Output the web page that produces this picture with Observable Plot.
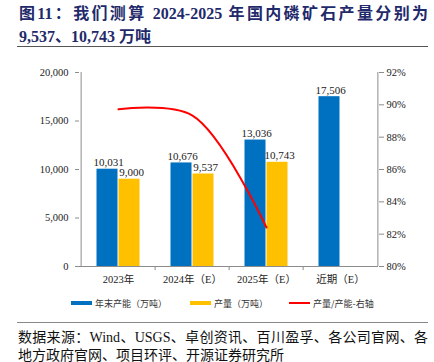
<!DOCTYPE html>
<html>
<head>
<meta charset="utf-8">
<script src="https://cdn.jsdelivr.net/npm/d3@7"></script>
<script src="https://cdn.jsdelivr.net/npm/@observablehq/plot@0.6"></script>
<style>
  html, body { margin: 0; padding: 0; background: #fff; width: 434px; height: 362px; overflow: hidden; }
  body { position: relative; font-family: "Liberation Serif", "Noto Sans CJK SC", serif; }
  .title { position: absolute; left: 19px; width: 409px; font-size: 16px; font-weight: bold; color: #1F2A6B; white-space: nowrap; }
  .t1 { top: 0px; text-align: justify; text-align-last: justify; }
  .t2 { top: 23px; }
  .rule { position: absolute; left: 17px; width: 411px; height: 0; border-top: 1.5px solid #555; }
  #chart { position: absolute; left: 0; top: 0; }
  .legend { position: absolute; top: 297px; left: 0; width: 434px; font-family: "Noto Sans CJK SC", sans-serif; font-size: 9px; color: #333; }
  .item { position: absolute; top: 0; display: flex; align-items: center; height: 12px; }
  .sw { display: inline-block; width: 21px; margin-right: 3px; }
  .cap { position: absolute; left: 18px; font-size: 14px; line-height: 18px; color: #111; white-space: nowrap; }
  .c1 { top: 329px; width: 410px; text-align: justify; text-align-last: justify; }
  .c2 { top: 347px; }
</style>
</head>
<body>
<div class="title t1">图11：我们测算 2024-2025 年国内磷矿石产量分别为</div>
<div class="title t2">9,537、10,743 万吨</div>
<div class="rule" style="top:46px"></div>
<div id="chart"></div>
<div class="legend">
  <div class="item" style="left:71px"><span class="sw" style="height:4px;background:#0070C0"></span>年末产能（万吨）</div>
  <div class="item" style="left:190px"><span class="sw" style="height:4px;background:#FFC000"></span>产量（万吨）</div>
  <div class="item" style="left:289px"><span class="sw" style="height:2px;background:#FF0000"></span>产量/产能-右轴</div>
</div>
<div class="rule" style="top:322px;border-top-color:#888"></div>
<div class="cap c1">数据来源：Wind、USGS、卓创资讯、百川盈孚、各公司官网、各</div>
<div class="cap c2">地方政府官网、项目环评、开源证券研究所</div>
<script>
const categories = ["2023年", "2024年（E）", "2025年（E）", "近期（E）"];
const capacity = [10031, 10676, 13036, 17506];
const output = [9000, 9537, 10743, null];
const ratioPct = [89.72, 89.33, 82.41, null];
const leftTicks = [0, 5000, 10000, 15000, 20000];
const rightTicks = [80, 82, 84, 86, 88, 90, 92];

const capData = categories.map((c, i) => ({cat: c, v: capacity[i]}));
const outData = categories.map((c, i) => ({cat: c, v: output[i]})).filter(d => d.v != null);
const ratioData = categories.map((c, i) => ({cat: c, r: ratioPct[i]})).filter(d => d.r != null);

const rMin = 80, rMax = 92, yMax = 20000;
const toY = r => (r - rMin) / (rMax - rMin) * yMax;
const fmt = d3.format(",");
const half = (434 - 79 - 56) / 4 / 2;
const axisColor = "#8c8c8c";

const chart = Plot.plot({
  width: 434,
  height: 290,
  marginTop: 72,
  marginBottom: 24,
  marginLeft: 79,
  marginRight: 56,
  style: {fontFamily: "'Liberation Serif', 'Noto Sans CJK SC', serif", fontSize: "10.5px", color: "#222", background: "transparent"},
  x: {type: "band", domain: categories, padding: 0, axis: null},
  y: {domain: [0, yMax], axis: null},
  marks: [
    Plot.barY(capData, {x: "cat", y: "v", fill: "#0070C0", insetLeft: 15.5, insetRight: 37.5}),
    Plot.barY(outData, {x: "cat", y: "v", fill: "#FFC000", insetLeft: 37.5, insetRight: 15.5}),
    Plot.text(capData, {x: "cat", y: "v", text: d => fmt(d.v), dx: -10, dy: -3, lineAnchor: "bottom", fontSize: 11, fill: "#222"}),
    Plot.text(outData, {x: "cat", y: "v", text: d => fmt(d.v), dx: 13, dy: -3, lineAnchor: "bottom", fontSize: 11, fill: "#222"}),
    Plot.line(ratioData, {x: "cat", y: d => toY(d.r), stroke: "#FF0000", strokeWidth: 2, curve: "catmull-rom"}),
    Plot.ruleY([0], {stroke: axisColor, strokeWidth: 1.2}),
    Plot.ruleX([categories[0]], {dx: -half, y1: 0, y2: yMax, stroke: axisColor}),
    Plot.ruleX([categories[categories.length - 1]], {dx: half, y1: 0, y2: yMax, stroke: axisColor}),
    Plot.ruleX(categories.slice(1), {dx: -half, y1: 0, y2: -420, stroke: axisColor}),
    Plot.axisY(leftTicks, {anchor: "left", tickFormat: d => fmt(d), tickSize: 4, tickPadding: 7, stroke: axisColor, fill: "#222", label: null}),
    Plot.axisY(rightTicks.map(toY), {anchor: "right", tickFormat: v => Math.round(v / yMax * (rMax - rMin) + rMin) + "%", tickSize: 5, tickPadding: 3, stroke: axisColor, fill: "#222", label: null}),
    Plot.axisX({tickSize: 0, tickPadding: 9, fill: "#222", fontSize: 10.5, label: null})
  ]
});
document.getElementById("chart").appendChild(chart);
</script>
</body>
</html>
